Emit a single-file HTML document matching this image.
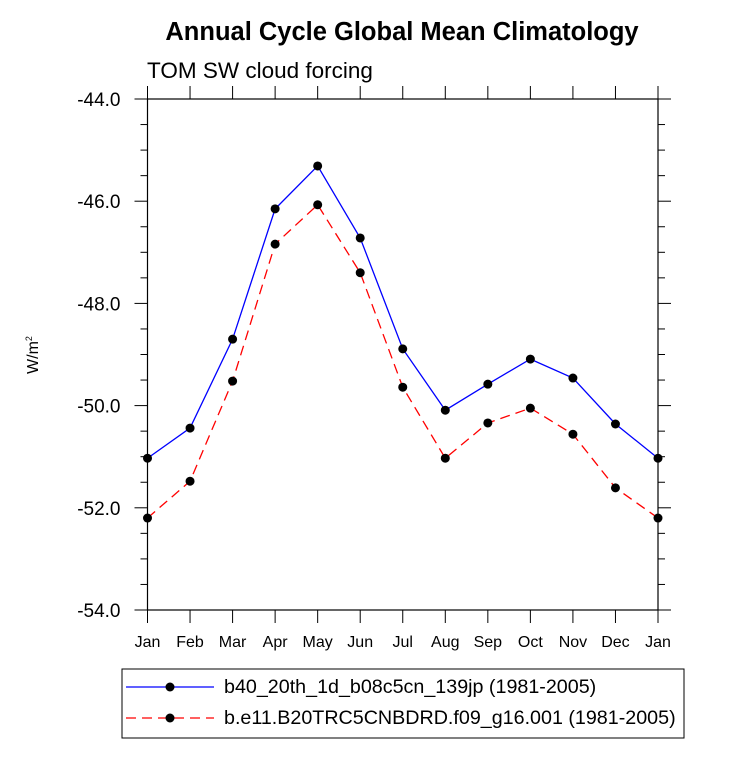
<!DOCTYPE html>
<html><head><meta charset="utf-8"><style>body{margin:0;background:#fff}svg text{font-family:"Liberation Sans",sans-serif}</style></head>
<body>
<svg id="c" width="733" height="758">
<text x="402" y="40" text-anchor="middle" font-size="25.5" font-weight="bold">Annual Cycle Global Mean Climatology</text>
<text x="147" y="78" font-size="22.5">TOM SW cloud forcing</text>
<text transform="translate(38,355) rotate(-90)" text-anchor="middle" font-size="16">W/m<tspan font-size="9" dy="-6">2</tspan></text>
<g id="axes"></g><g id="series"></g>
<rect x="122" y="669" width="562" height="69" fill="none" stroke="#000" stroke-width="1"/>
<g>
<line x1="126" y1="687" x2="214" y2="687" stroke="#0000ff" stroke-width="1.3"/><circle cx="170" cy="687" r="4.5"/>
<text x="224" y="693" font-size="19.7">b40_20th_1d_b08c5cn_139jp (1981-2005)</text></g>
<g>
<line x1="126" y1="718" x2="214" y2="718" stroke="#ff0000" stroke-width="1.3" stroke-dasharray="10,6"/><circle cx="170" cy="718" r="4.5"/>
<text x="224" y="724" font-size="19.7">b.e11.B20TRC5CNBDRD.f09_g16.001 (1981-2005)</text></g>
</svg>
<script>
const months=["Jan","Feb","Mar","Apr","May","Jun","Jul","Aug","Sep","Oct","Nov","Dec","Jan"];
const seriesB40=[-51.03,-50.44,-48.70,-46.15,-45.31,-46.72,-48.89,-50.09,-49.58,-49.09,-49.46,-50.36,-51.03];
const seriesBE11=[-52.2,-51.48,-49.52,-46.84,-46.07,-47.40,-49.64,-51.03,-50.34,-50.05,-50.56,-51.61,-52.2];
const yTicks=["-44.0","-46.0","-48.0","-50.0","-52.0","-54.0"];
const L=147.5,R=658,T=99,B=610,ymin=-54,ymax=-44;
const NS="http://www.w3.org/2000/svg";
function xs(i){return L+(R-L)*i/(months.length-1);}
function ys(v){return B-(v-ymin)/(ymax-ymin)*(B-T);}
function mk(t,a,p){const e=document.createElementNS(NS,t);for(const k in a)e.setAttribute(k,a[k]);p.appendChild(e);return e;}
const ax=document.getElementById('axes');
const fr=mk('rect',{x:L,y:T,width:R-L,height:B-T,fill:'none',stroke:'#000','stroke-width':1.2},ax);


for(let v=ymin;v<=ymax+0.001;v+=0.5){const y=ys(v);const maj=Math.abs(v/2-Math.round(v/2))<0.01;const len=maj?13:7;
mk('line',{x1:L-len,y1:y,x2:L,y2:y,stroke:'#000'},ax);mk('line',{x1:R,y1:y,x2:R+len,y2:y,stroke:'#000'},ax);}
yTicks.forEach(s=>{const t=mk('text',{x:L-27,y:ys(parseFloat(s))+7,'text-anchor':'end','font-size':19},ax);t.textContent=s;

});
months.forEach((m,i)=>{const x=xs(i);mk('line',{x1:x,y1:T-13,x2:x,y2:T,stroke:'#000'},ax);mk('line',{x1:x,y1:B,x2:x,y2:B+13,stroke:'#000'},ax);
const t=mk('text',{x:x,y:B+37,'text-anchor':'middle','font-size':16},ax);t.textContent=m;

});
const sg=document.getElementById('series');
function draw(vals,col,dash,name){const g=mk('g',{},sg);


const a={points:vals.map((v,i)=>xs(i)+','+ys(v)).join(' '),fill:'none',stroke:col,'stroke-width':1.3};if(dash)a['stroke-dasharray']=dash;mk('polyline',a,g);
vals.forEach((v,i)=>{const c=mk('circle',{cx:xs(i),cy:ys(v),r:4.5,fill:'#000'},g);

});}
draw(seriesB40,'#0000ff',null,'series-b40');
draw(seriesBE11,'#ff0000','10,6','series-be11');
</script>
</body></html>
